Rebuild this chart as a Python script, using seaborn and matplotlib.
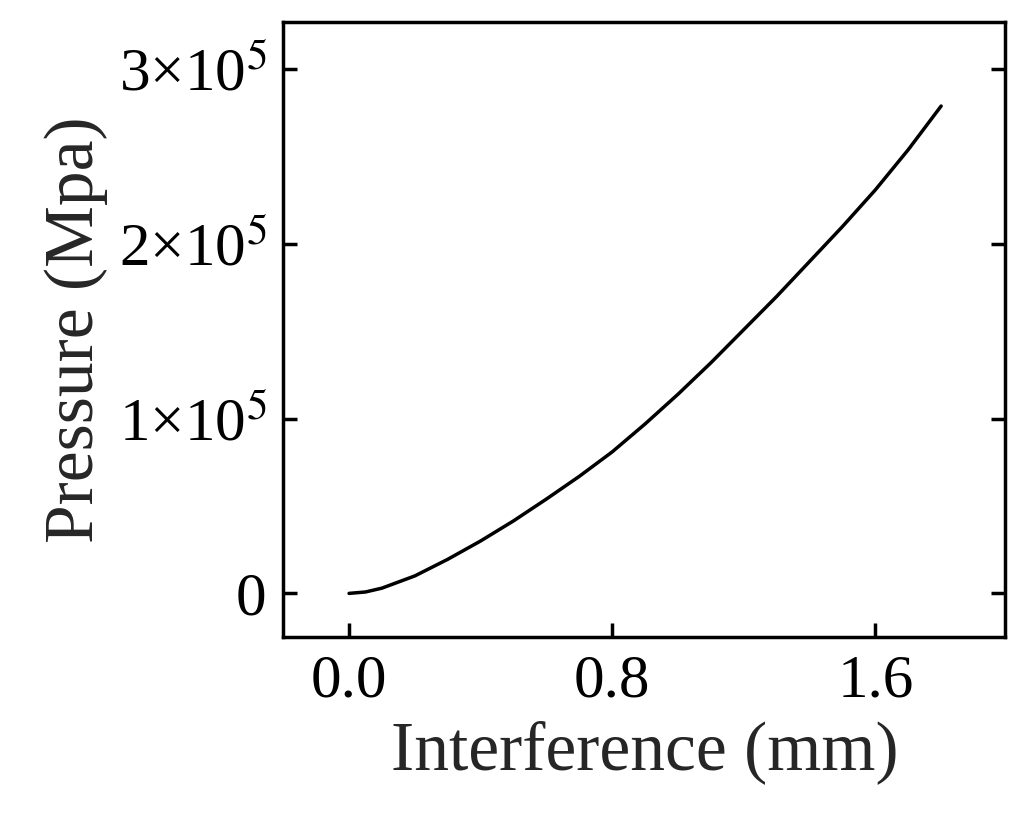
import numpy as np
import pandas as pd
import matplotlib
matplotlib.use("Agg")
import matplotlib.pyplot as plt
import seaborn as sns

# values
interference = [0.0, 0.05, 0.1, 0.2, 0.3, 0.4, 0.5, 0.6, 0.7, 0.8, 0.9, 1.0, 1.1, 1.2, 1.3, 1.4, 1.5, 1.6, 1.7, 1.8]
pressure = [0, 800, 3000, 10000, 19500, 30000, 41500, 54000, 67000, 81000, 97000, 114000, 132000, 151000,
            170000, 190000, 210000, 231000, 254000, 279000]
ytick_vals = [0, 100000, 200000, 300000]
ytick_labels = ["0", "1×10$^5$", "2×10$^5$", "3×10$^5$"]
xtick_vals = [0.0, 0.8, 1.6]

sns.set_style("ticks")
plt.rcParams["font.family"] = ["Liberation Serif", "DejaVu Serif"]
plt.rcParams["mathtext.fontset"] = "stix"

df = pd.DataFrame({"x": interference, "y": pressure})
fig, ax = plt.subplots(figsize=(10.3, 8.22), dpi=100)
sns.lineplot(data=df, x="x", y="y", color="black", linewidth=2.5, ax=ax)

ax.set_xlim(-0.2, 1.995)
ax.set_ylim(-25000, 327000)
ax.set_xticks(xtick_vals)
ax.set_xticklabels([f"{v:.1f}" for v in xtick_vals])
ax.set_yticks(ytick_vals)
ax.set_yticklabels(ytick_labels)
ax.tick_params(direction="in", length=10, width=2.5, labelsize=44,
               colors="black", right=True, pad=12)
for s in ax.spines.values():
    s.set_linewidth(2.5)
    s.set_color("black")
ax.set_xlabel("Interference (mm)", fontsize=50, labelpad=8)
ax.set_ylabel("Pressure (Mpa)", fontsize=50, labelpad=8)

fig.subplots_adjust(left=0.275, right=0.976, top=0.973, bottom=0.225)
fig.savefig("out.png", dpi=100)
